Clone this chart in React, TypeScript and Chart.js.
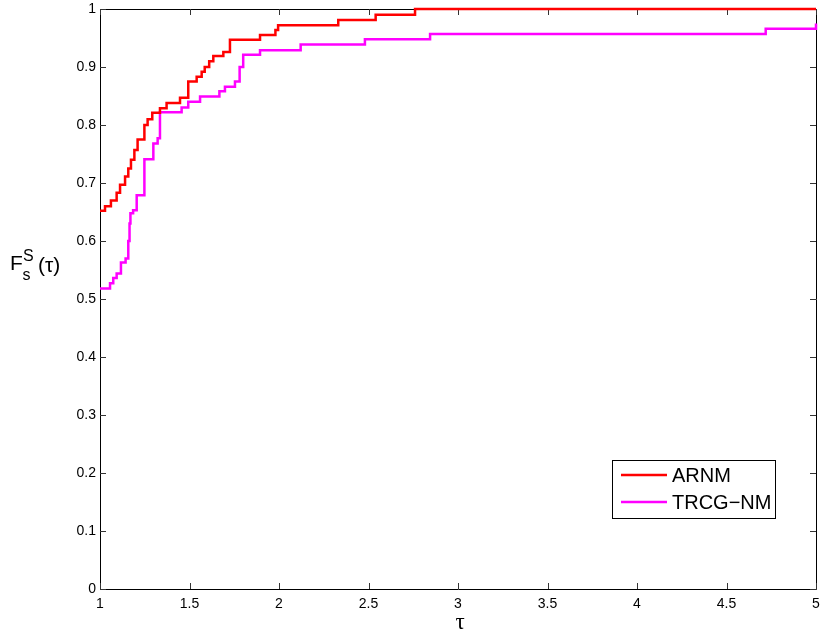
import { useEffect, useRef } from "react";
import { Chart, registerables } from "chart.js";

Chart.register(...registerables);

// ---- data ----
const ARNM_TAU = [
  1.0, 1.028, 1.061, 1.093, 1.112, 1.14, 1.158, 1.173, 1.192, 1.21, 1.248, 1.266, 1.292, 1.335,
  1.372, 1.447, 1.493, 1.54, 1.568, 1.585, 1.61, 1.633, 1.689, 1.726, 1.894, 1.98, 1.995, 2.331,
  2.54, 2.76, 5.0,
];
const ARNM_VAL = [
  0.652, 0.66, 0.67, 0.683, 0.697, 0.711, 0.725, 0.74, 0.757, 0.775, 0.8, 0.81, 0.821, 0.829,
  0.838, 0.847, 0.875, 0.883, 0.892, 0.9, 0.91, 0.919, 0.926, 0.947, 0.955, 0.964, 0.972, 0.981,
  0.99, 1.0, 1.0,
];
const TRCG_TAU = [
  1.0, 1.056, 1.074, 1.093, 1.117, 1.143, 1.158, 1.165, 1.17, 1.185, 1.205, 1.248, 1.298, 1.322,
  1.335, 1.456, 1.493, 1.559, 1.667, 1.698, 1.754, 1.78, 1.8, 1.894, 2.121, 2.48, 2.844, 4.719,
  5.0,
];
const TRCG_VAL = [
  0.518, 0.527, 0.536, 0.544, 0.563, 0.57, 0.6, 0.63, 0.648, 0.653, 0.679, 0.741, 0.768, 0.777,
  0.822, 0.83, 0.84, 0.849, 0.858, 0.866, 0.875, 0.9, 0.921, 0.929, 0.939, 0.948, 0.957, 0.966,
  0.975,
];
const SERIES_LABELS = ["ARNM", "TRCG\u2212NM"];
const SERIES_COLORS = ["#ff0000", "#ff00ff"];

const X_TICKS = [1, 1.5, 2, 2.5, 3, 3.5, 4, 4.5, 5];
const X_TICK_LABELS = ["1", "1.5", "2", "2.5", "3", "3.5", "4", "4.5", "5"];
const Y_TICKS = [0, 0.1, 0.2, 0.3, 0.4, 0.5, 0.6, 0.7, 0.8, 0.9, 1];
const Y_TICK_LABELS = ["0", "0.1", "0.2", "0.3", "0.4", "0.5", "0.6", "0.7", "0.8", "0.9", "1"];

const SANS = '"Liberation Sans", Arial, Helvetica, sans-serif';
const SERIF = '"Liberation Serif", "Times New Roman", serif';

const framePlugin = {
  id: "matlabFrame",
  beforeDatasetsDraw(chart: any) {
    const { ctx, chartArea } = chart;
    const { left, right, top, bottom } = chartArea;
    const xs = chart.scales.x;
    const ys = chart.scales.y;
    const tl = 6;
    ctx.save();
    ctx.strokeStyle = "#000";
    ctx.lineWidth = 1;
    ctx.beginPath();
    ctx.rect(Math.round(left) + 0.5, Math.round(top) + 0.5, Math.round(right - left), Math.round(bottom - top));
    ctx.stroke();
    ctx.strokeStyle = "#333";
    ctx.beginPath();
    X_TICKS.forEach((v) => {
      const px = Math.round(xs.getPixelForValue(v)) + 0.5;
      ctx.moveTo(px, bottom);
      ctx.lineTo(px, bottom - tl);
      ctx.moveTo(px, top);
      ctx.lineTo(px, top + tl);
    });
    Y_TICKS.forEach((v) => {
      const py = Math.round(ys.getPixelForValue(v)) + 0.5;
      ctx.moveTo(left, py);
      ctx.lineTo(left + tl, py);
      ctx.moveTo(right, py);
      ctx.lineTo(right - tl, py);
    });
    ctx.stroke();
    ctx.restore();
  },
  afterDraw(chart: any) {
    const { ctx } = chart;
    ctx.save();
    // legend
    const lx = 612, ly = 460, lw = 163, lh = 58;
    ctx.fillStyle = "#fff";
    ctx.fillRect(lx, ly, lw, lh);
    ctx.strokeStyle = "#000";
    ctx.lineWidth = 1;
    ctx.strokeRect(lx + 0.5, ly + 0.5, lw, lh);
    chart.data.datasets.forEach((ds: any, i: number) => {
      const yy = 475 + i * 27;
      ctx.strokeStyle = ds.borderColor;
      ctx.lineWidth = 2.5;
      ctx.beginPath();
      ctx.moveTo(621, yy);
      ctx.lineTo(667, yy);
      ctx.stroke();
      ctx.fillStyle = "#000";
      ctx.font = `20px ${SANS}`;
      ctx.textAlign = "left";
      ctx.textBaseline = "middle";
      ctx.fillText(ds.label, 672, yy + 1);
    });
    // y axis title F_s^S (tau)
    ctx.fillStyle = "#000";
    ctx.textBaseline = "alphabetic";
    ctx.textAlign = "left";
    ctx.font = `21px ${SANS}`;
    ctx.fillText("F", 10, 270);
    ctx.font = `16px ${SANS}`;
    ctx.fillText("S", 23, 261);
    ctx.fillText("s", 22.5, 280);
    ctx.font = `21px ${SANS}`;
    ctx.fillText("(\u03c4)", 38, 272);
    // x axis title
    ctx.font = `23px ${SERIF}`;
    ctx.textAlign = "center";
    ctx.fillText("\u03c4", 460, 629);
    ctx.restore();
  },
};

export default function App() {
  const ref = useRef<HTMLCanvasElement | null>(null);
  useEffect(() => {
    if (!ref.current) return;
    const chart = new Chart(ref.current, {
      type: "line",
      data: {
        datasets: [
          {
            label: SERIES_LABELS[0],
            data: ARNM_TAU.map((t, i) => ({ x: t, y: ARNM_VAL[i] })),
            borderColor: SERIES_COLORS[0],
            backgroundColor: SERIES_COLORS[0],
            borderWidth: 2.5,
            pointRadius: 0,
            stepped: true,
            fill: false,
            clip: 3,
          },
          {
            label: SERIES_LABELS[1],
            data: TRCG_TAU.map((t, i) => ({ x: t, y: TRCG_VAL[i] })),
            borderColor: SERIES_COLORS[1],
            backgroundColor: SERIES_COLORS[1],
            borderWidth: 2.5,
            pointRadius: 0,
            stepped: true,
            fill: false,
            clip: 3,
          },
        ],
      },
      options: {
        animation: false,
        responsive: true,
        maintainAspectRatio: false,
        devicePixelRatio: 1,
        layout: { padding: { top: 9, right: 6, left: 0, bottom: 0 } },
        plugins: { legend: { display: false }, tooltip: { enabled: false } },
        scales: {
          x: {
            type: "linear",
            min: 1,
            max: 5,
            grid: { display: false, drawTicks: false },
            border: { display: false },
            afterBuildTicks: (s: any) => {
              s.ticks = X_TICKS.map((v) => ({ value: v }));
            },
            afterFit: (s: any) => {
              s.height = 48;
              s.paddingLeft = 0;
              s.paddingRight = 0;
            },
            ticks: {
              padding: 7,
              maxRotation: 0,
              autoSkip: false,
              color: "#000",
              font: { family: SANS, size: 14 },
              callback: (_v: any, i: number) => X_TICK_LABELS[i],
            },
          },
          y: {
            type: "linear",
            min: 0,
            max: 1,
            grid: { display: false, drawTicks: false },
            border: { display: false },
            afterBuildTicks: (s: any) => {
              s.ticks = Y_TICKS.map((v) => ({ value: v }));
            },
            afterFit: (s: any) => {
              s.width = 100;
              s.paddingTop = 0;
              s.paddingBottom = 0;
            },
            ticks: {
              padding: 4,
              autoSkip: false,
              color: "#000",
              font: { family: SANS, size: 14 },
              callback: (_v: any, i: number) => Y_TICK_LABELS[i],
            },
          },
        },
      } as any,
      plugins: [framePlugin],
    });
    return () => chart.destroy();
  }, []);
  return (
    <div style={{ position: "fixed", left: 0, top: 0, width: 822, height: 637, background: "#fff" }}>
      <canvas ref={ref} />
    </div>
  );
}
